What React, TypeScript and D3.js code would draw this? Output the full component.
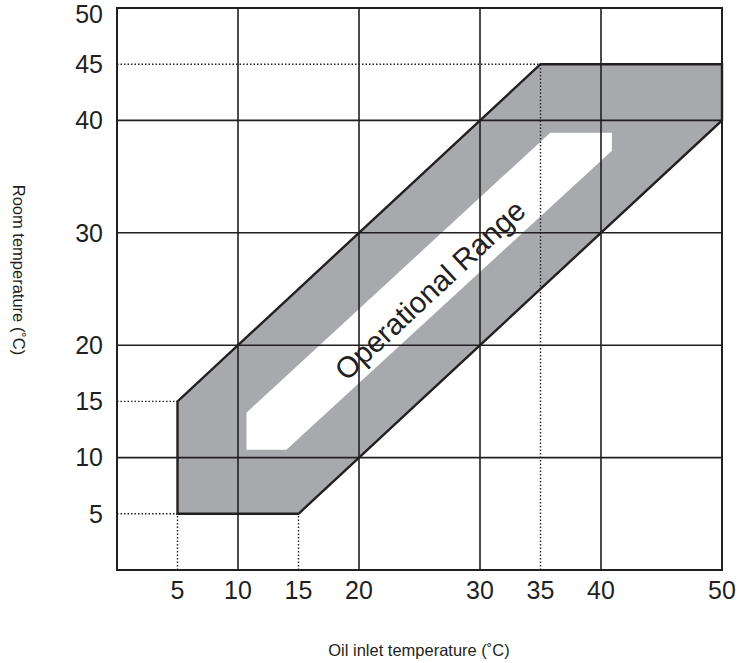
import React, { useEffect, useRef } from "react";
import * as d3 from "d3";

// Tick labels on each axis.
const xTicks = [5, 10, 15, 20, 30, 35, 40, 50];
const yTicks = [5, 10, 15, 20, 30, 40, 45, 50];

// Full grid lines and partial (dotted) guide lines.
const gridX = [10, 20, 30, 40];
const gridY = [10, 20, 30, 40];
const dottedV = [
  { x: 5, y0: 0, y1: 5 },
  { x: 15, y0: 0, y1: 5 },
  { x: 35, y0: 0, y1: 45 },
];
const dottedH = [
  { y: 5, x0: 0, x1: 5 },
  { y: 15, x0: 0, x1: 5 },
  { y: 45, x0: 0, x1: 35 },
];

// Operating region (oil inlet, room temperature).
const regionPoints: [number, number][] = [
  [5, 5], [15, 5], [50, 40], [50, 45], [35, 45], [5, 15],
];

// White arrow band inside the region.
const arrowPoints: [number, number][] = [
  [10.7, 14], [10.7, 10.7], [14, 10.7], [40.9, 37.3], [40.9, 38.9], [35.8, 38.9],
];

const App = () => {
  const ref = useRef<SVGSVGElement>(null);

  useEffect(() => {
    const width = 739;
    const height = 663;
    const svg = d3.select(ref.current).attr("width", width).attr("height", height);
    svg.selectAll("*").remove();

    const font = "Liberation Sans, Arial, sans-serif";
    const x = d3.scaleLinear().domain([0, 50]).range([117, 722]);
    const y = d3.scaleLinear().domain([0, 50]).range([570, 8]);

    const line = d3.line<[number, number]>().x(d => x(d[0])).y(d => y(d[1]));

    // region fill
    svg.append("path")
      .attr("d", line(regionPoints) + "Z")
      .attr("fill", "#a7a9ac");

    // arrow
    svg.append("path")
      .attr("d", line(arrowPoints) + "Z")
      .attr("fill", "#ffffff");

    // grid
    const g = svg.append("g").attr("stroke", "#231f20").attr("stroke-width", 1.6);
    gridX.forEach(v => g.append("line").attr("x1", x(v)).attr("x2", x(v)).attr("y1", y(0)).attr("y2", y(50)));
    gridY.forEach(v => g.append("line").attr("y1", y(v)).attr("y2", y(v)).attr("x1", x(0)).attr("x2", x(50)));

    const dg = svg.append("g").attr("stroke", "#231f20").attr("stroke-width", 1.4).attr("stroke-dasharray", "1.5,2");
    dottedV.forEach(d => dg.append("line").attr("x1", x(d.x)).attr("x2", x(d.x)).attr("y1", y(d.y0)).attr("y2", y(d.y1)));
    dottedH.forEach(d => dg.append("line").attr("y1", y(d.y)).attr("y2", y(d.y)).attr("x1", x(d.x0)).attr("x2", x(d.x1)));

    // region outline
    svg.append("path")
      .attr("d", line(regionPoints) + "Z")
      .attr("fill", "none")
      .attr("stroke", "#231f20")
      .attr("stroke-width", 2.4)
      .attr("stroke-linejoin", "miter");

    // frame
    svg.append("rect")
      .attr("x", x(0)).attr("y", y(50))
      .attr("width", x(50) - x(0)).attr("height", y(0) - y(50))
      .attr("fill", "none").attr("stroke", "#231f20").attr("stroke-width", 2);

    // tick labels
    svg.append("g").selectAll("text").data(xTicks).join("text")
      .attr("x", d => x(d)).attr("y", 599)
      .attr("text-anchor", "middle")
      .attr("font-family", font).attr("font-size", 25).attr("fill", "#231f20")
      .text(d => d);
    svg.append("g").selectAll("text").data(yTicks).join("text")
      .attr("x", 103).attr("y", d => Math.max(y(d), 14)).attr("dy", "0.35em")
      .attr("text-anchor", "end")
      .attr("font-family", font).attr("font-size", 25).attr("fill", "#231f20")
      .text(d => d);

    // label on arrow
    svg.append("text")
      .attr("transform", `translate(430,290) rotate(-43)`)
      .attr("text-anchor", "middle").attr("dy", "0.35em")
      .attr("font-family", font).attr("font-size", 29.5).attr("fill", "#231f20")
      .text("Operational Range");

    // axis titles
    svg.append("text")
      .attr("x", 419).attr("y", 656)
      .attr("text-anchor", "middle")
      .attr("font-family", font).attr("font-size", 16.5).attr("fill", "#231f20")
      .text("Oil inlet temperature (˚C)");
    svg.append("text")
      .attr("transform", "translate(19,270) rotate(90)")
      .attr("text-anchor", "middle").attr("dy", "0.35em")
      .attr("font-family", font).attr("font-size", 16.5).attr("fill", "#231f20")
      .text("Room temperature (˚C)");
  }, []);

  return (
    <svg ref={ref} style={{ position: "absolute", left: 0, top: 0, background: "#fff" }}></svg>
  );
};

export default App;
